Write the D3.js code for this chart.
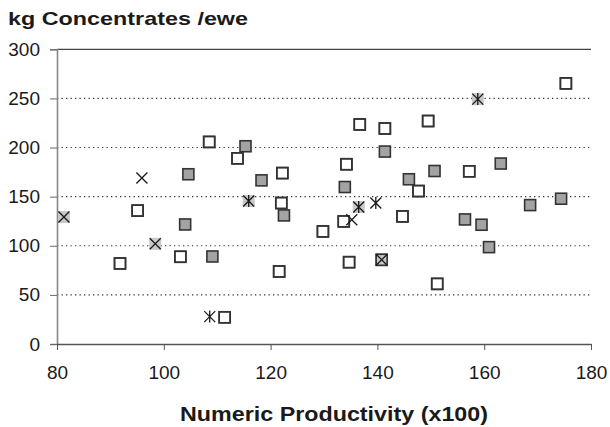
<!DOCTYPE html>
<html>
<head>
<meta charset="utf-8">
<script src="https://cdn.jsdelivr.net/npm/d3@7"></script>
<style>
  body { margin: 0; background: #fff; }
  text { font-family: "Liberation Sans", Arial, sans-serif; fill: #1a1a1a; }
</style>
</head>
<body>
<div id="chart"></div>
<script>
// open squares
var openX = [91.8, 95.1, 103.1, 108.5, 111.4, 113.8, 121.6, 122.0, 122.2, 129.8, 133.7, 134.2, 134.7, 136.7, 140.8, 141.4, 144.7, 147.7, 149.5, 151.2, 157.2, 175.3];
var openY = [82, 135.8, 88.8, 205.7, 27.2, 189, 73.8, 143.5, 174, 114.6, 124.8, 183, 83.3, 223.5, 85.7, 219.4, 129.9, 155.7, 227, 61.2, 175.8, 265.3];
// grey filled squares
var greyX = [104.0, 104.6, 109.1, 115.3, 118.3, 122.5, 133.9, 141.4, 145.9, 150.7, 156.4, 159.5, 160.9, 163.1, 168.6, 174.4];
var greyY = [121.7, 172.8, 89.1, 201.3, 166.6, 130.9, 159.8, 195.9, 167.7, 176.1, 126.8, 121.4, 98.6, 183.7, 141.4, 147.9];
// x markers, shaded background
var crossShadedX = [81.3, 98.4, 140.8];
var crossShadedY = [129.2, 102, 85.7];
// x markers, no background
var crossX = [95.9, 135.2];
var crossY = [169, 126.5];
// star markers, shaded background
var starShadedX = [115.9, 136.5, 158.8];
var starShadedY = [145.5, 139.4, 249.3];
// star markers, no background
var starX = [108.6, 139.7];
var starY = [27.9, 143.5];

var xTicks = [80, 100, 120, 140, 160, 180];
var yTicks = [0, 50, 100, 150, 200, 250, 300];
var gridTicks = [50, 100, 150, 200, 250];

var W = 610, H = 427;
var plotLeft = 57, plotRight = 591, plotTop = 49.3, plotBottom = 344;

var svg = d3.select("#chart").append("svg")
    .attr("width", W)
    .attr("height", H);

var x = d3.scaleLinear().domain([80, 180]).range([plotLeft, plotRight]);
var y = d3.scaleLinear().domain([0, 300]).range([plotBottom, plotTop]);

var zip = function(xs, ys) { return xs.map(function(v, i) { return [v, ys[i]]; }); };

// dotted gridlines
svg.selectAll(".grid")
  .data(gridTicks)
  .enter()
  .append("line")
    .attr("x1", plotLeft).attr("x2", plotRight)
    .attr("y1", function(d) { return y(d); })
    .attr("y2", function(d) { return y(d); })
    .attr("stroke", "#333")
    .attr("stroke-width", 1.1)
    .attr("stroke-dasharray", "1.3,3.2");

// top border line
svg.append("line")
    .attr("x1", plotLeft).attr("x2", plotRight)
    .attr("y1", y(300)).attr("y2", y(300))
    .attr("stroke", "#444").attr("stroke-width", 1.3);

// y axis
var yAxis = svg.append("g")
    .attr("transform", "translate(" + plotLeft + ",0)")
    .call(d3.axisLeft(y).tickValues(yTicks).tickSize(7).tickPadding(10));
yAxis.select(".domain").attr("stroke", "#888").attr("stroke-width", 1.6);
yAxis.selectAll(".tick line").attr("stroke", "#666");
yAxis.selectAll("text")
    .style("font-size", "19px")
    .style("font-family", "Liberation Sans, Arial, sans-serif")
    .attr("fill", "#1a1a1a");

// x axis
var xAxis = svg.append("g")
    .attr("transform", "translate(0," + plotBottom + ")")
    .call(d3.axisBottom(x).tickValues(xTicks).tickSize(6).tickSizeOuter(0).tickPadding(16));
xAxis.select(".domain").attr("stroke", "#555").attr("stroke-width", 1.3);
xAxis.selectAll(".tick line").attr("stroke", "#555");
xAxis.selectAll("text")
    .style("font-size", "19px")
    .style("font-family", "Liberation Sans, Arial, sans-serif")
    .attr("fill", "#1a1a1a");

// titles
svg.append("text")
    .attr("x", 8).attr("y", 25)
    .attr("textLength", 240)
    .attr("lengthAdjust", "spacingAndGlyphs")
    .style("font-size", "19px")
    .style("font-weight", "bold")
    .text("kg Concentrates /ewe");

svg.append("text")
    .attr("x", 180).attr("y", 421)
    .attr("textLength", 308)
    .attr("lengthAdjust", "spacingAndGlyphs")
    .style("font-size", "20px")
    .style("font-weight", "bold")
    .text("Numeric Productivity (x100)");

var S = 11;
var openPts = zip(openX, openY);

// open squares (white fill, outline drawn later on top of shading)
svg.selectAll(".open")
  .data(openPts)
  .enter()
  .append("rect")
    .attr("x", function(d) { return x(d[0]) - S / 2; })
    .attr("y", function(d) { return y(d[1]) - S / 2; })
    .attr("width", S).attr("height", S)
    .attr("fill", "#fff")
    .attr("stroke", "#333")
    .attr("stroke-width", 1.6);

// grey squares
svg.selectAll(".grey")
  .data(zip(greyX, greyY))
  .enter()
  .append("rect")
    .attr("x", function(d) { return x(d[0]) - S / 2; })
    .attr("y", function(d) { return y(d[1]) - S / 2; })
    .attr("width", S).attr("height", S)
    .attr("fill", "#a3a3a3")
    .attr("stroke", "#333")
    .attr("stroke-width", 1.6);

// light background behind shaded crosses/stars
var shaded = zip(crossShadedX, crossShadedY).concat(zip(starShadedX, starShadedY));
svg.selectAll(".shade")
  .data(shaded)
  .enter()
  .append("rect")
    .attr("x", function(d) { return x(d[0]) - 6; })
    .attr("y", function(d) { return y(d[1]) - 6; })
    .attr("width", 12).attr("height", 12)
    .attr("fill", "#c8c8c8");

// outlines of open squares again, so the shading sits inside them
svg.selectAll(".openOutline")
  .data(openPts)
  .enter()
  .append("rect")
    .attr("x", function(d) { return x(d[0]) - S / 2; })
    .attr("y", function(d) { return y(d[1]) - S / 2; })
    .attr("width", S).attr("height", S)
    .attr("fill", "none")
    .attr("stroke", "#333")
    .attr("stroke-width", 1.6);

var R = 5.5;
var crossPath = function(d) {
  var cx = x(d[0]), cy = y(d[1]);
  return "M" + (cx - R) + "," + (cy - R) + "L" + (cx + R) + "," + (cy + R) +
         "M" + (cx - R) + "," + (cy + R) + "L" + (cx + R) + "," + (cy - R);
};
var starPath = function(d) {
  var cx = x(d[0]), cy = y(d[1]);
  return crossPath(d) + "M" + cx + "," + (cy - R - 0.5) + "L" + cx + "," + (cy + R + 0.5);
};

svg.selectAll(".cross")
  .data(zip(crossShadedX, crossShadedY).concat(zip(crossX, crossY)))
  .enter()
  .append("path")
    .attr("d", crossPath)
    .attr("fill", "none")
    .attr("stroke", "#1a1a1a")
    .attr("stroke-width", 1.3);

svg.selectAll(".star")
  .data(zip(starShadedX, starShadedY).concat(zip(starX, starY)))
  .enter()
  .append("path")
    .attr("d", starPath)
    .attr("fill", "none")
    .attr("stroke", "#1a1a1a")
    .attr("stroke-width", 1.3);
</script>
</body>
</html>
